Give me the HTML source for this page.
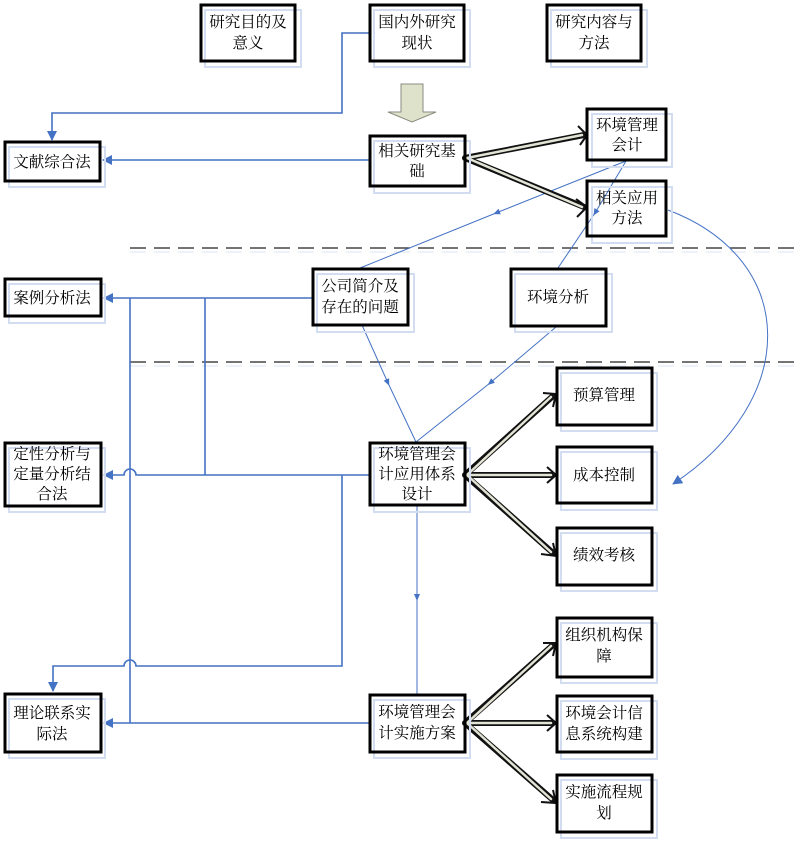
<!DOCTYPE html>
<html><head><meta charset="utf-8"><style>
html,body{margin:0;padding:0;background:#fff;}
svg{display:block;font-family:"Liberation Serif","Noto Serif CJK SC","Noto Sans CJK SC",serif;}
</style></head><body>
<svg width="807" height="842" viewBox="0 0 807 842" xmlns="http://www.w3.org/2000/svg">
<defs>
<marker id="a" markerWidth="10" markerHeight="10" refX="9" refY="5" orient="auto" markerUnits="userSpaceOnUse"><path d="M0,0 L10,5 L0,10 z" fill="#4472c4"/></marker>
<marker id="m" markerWidth="8" markerHeight="8" refX="4" refY="4" orient="auto" markerUnits="userSpaceOnUse"><path d="M0,1 L7,4 L0,7 z" fill="#4472c4"/></marker>
</defs>
<line x1="130" y1="248" x2="800" y2="248" stroke="#222" stroke-width="1.3" stroke-dasharray="16,8"/>
<line x1="130" y1="252" x2="800" y2="252" stroke="#dbe3f3" stroke-width="1" stroke-dasharray="16,8"/>
<line x1="130" y1="362" x2="800" y2="362" stroke="#222" stroke-width="1.3" stroke-dasharray="16,8"/>
<line x1="130" y1="366" x2="800" y2="366" stroke="#dbe3f3" stroke-width="1" stroke-dasharray="16,8"/>

<g fill="none" stroke="#4472c4" stroke-width="1.6">
<polyline points="369,33 342,33 342,113 52,113 52,140" marker-end="url(#a)"/>
<line x1="369" y1="160" x2="103" y2="160" marker-end="url(#a)"/>
<line x1="312" y1="298" x2="104" y2="298" marker-end="url(#a)"/>
<line x1="130" y1="298" x2="130" y2="723"/>
<line x1="205" y1="298" x2="205" y2="475"/>
<path d="M369,475 L136,475 A6,6 0 0 0 124,475 L104,475" marker-end="url(#a)"/>
<path d="M342,475 L342,666 L136,666 A6,6 0 0 0 124,666 L53,666 L53,691" marker-end="url(#a)"/>
<line x1="369" y1="723" x2="104" y2="723" marker-end="url(#a)"/>
</g>
<g fill="none" stroke="#4472c4" stroke-width="1">
<path d="M417,505 L417,598" marker-end="url(#m)"/><line x1="417" y1="598" x2="417" y2="694"/>
<path d="M626,161 L496,213" marker-end="url(#m)"/><line x1="496" y1="213" x2="360" y2="268"/>
<path d="M626,161 L595,213" marker-end="url(#m)"/><line x1="595" y1="213" x2="558" y2="268"/>
<path d="M362,325 L388,383" marker-end="url(#m)"/><line x1="388" y1="383" x2="416" y2="442"/>
<path d="M556,327 L490,383" marker-end="url(#m)"/><line x1="490" y1="383" x2="416" y2="442"/>
<path d="M668,210 C800,260 800,400 673,484" marker-end="url(#a)"/>
</g>

<g fill="none" stroke-linecap="round">
<g stroke="#111" stroke-width="6">
<path d="M465,158 L584,135 M465,158 L584,207 M465,475 L553,396 M465,475 L553,475 M465,475 L553,553 M465,723 L553,645 M465,723 L553,723 M465,723 L553,800"/>
</g>
<g stroke="#e4e4d6" stroke-width="2.5">
<path d="M467,158 L582,135 M467,158 L582,207 M467,475 L551,397 M467,475 L551,475 M467,475 L551,552 M467,723 L551,646 M467,723 L551,723 M467,723 L551,799"/>
</g>
</g>
<g fill="none" stroke="#111" stroke-width="2">
<path d="M578,126 L587,135 L580,145"/><path d="M576,199 L587,207 L577,217"/>
<path d="M543,393 L556,394 L553,407"/><path d="M547,467 L556,475 L547,483"/><path d="M541,554 L556,556 L553,543"/>
<path d="M543,643 L556,643 L553,656"/><path d="M547,715 L556,723 L547,731"/><path d="M541,802 L556,803 L553,790"/>
</g>

<path d="M401,84 L423,84 L423,112 L436,112 L412,122 L388,112 L401,112 z" fill="#dfe2cb" stroke="#8a8a80" stroke-width="1"/>

<g font-size="15.5" text-anchor="middle">
<rect x="205" y="10" width="96" height="57" fill="none" stroke="#d3ddf1" stroke-width="2"/><rect x="201" y="5" width="94" height="56" fill="none" stroke="#000" stroke-width="3"/>
<text x="248" y="27">研究目的及</text><text x="248" y="48">意义</text>
<rect x="374" y="10" width="96" height="57" fill="none" stroke="#d3ddf1" stroke-width="2"/><rect x="370" y="5" width="94" height="56" fill="none" stroke="#000" stroke-width="3"/>
<text x="417" y="27">国内外研究</text><text x="417" y="48">现状</text>
<rect x="551" y="10" width="96" height="57" fill="none" stroke="#d3ddf1" stroke-width="2"/><rect x="547" y="5" width="94" height="56" fill="none" stroke="#000" stroke-width="3"/>
<text x="594" y="27">研究内容与</text><text x="594" y="48">方法</text>

<rect x="9" y="147" width="96" height="40" fill="none" stroke="#d3ddf1" stroke-width="2"/><rect x="5" y="142" width="95" height="39" fill="none" stroke="#000" stroke-width="3"/>
<text x="52" y="167">文献综合法</text>
<rect x="374" y="141" width="96" height="52" fill="none" stroke="#d3ddf1" stroke-width="2"/><rect x="370" y="136" width="95" height="50" fill="none" stroke="#000" stroke-width="3"/>
<text x="417" y="156">相关研究基</text><text x="417" y="176">础</text>
<rect x="592" y="114" width="80" height="53" fill="none" stroke="#d3ddf1" stroke-width="2"/><rect x="587" y="109" width="79" height="51" fill="none" stroke="#000" stroke-width="3"/>
<text x="627" y="130">环境管理</text><text x="627" y="150">会计</text>
<rect x="592" y="187" width="80" height="56" fill="none" stroke="#d3ddf1" stroke-width="2"/><rect x="587" y="181" width="79" height="55" fill="none" stroke="#000" stroke-width="3"/>
<text x="627" y="203">相关应用</text><text x="627" y="223">方法</text>

<rect x="9" y="284" width="96" height="39" fill="none" stroke="#d3ddf1" stroke-width="2"/><rect x="5" y="279" width="96" height="37" fill="none" stroke="#000" stroke-width="3"/>
<text x="52" y="303">案例分析法</text>
<rect x="317" y="274" width="97" height="58" fill="none" stroke="#d3ddf1" stroke-width="2"/><rect x="313" y="269" width="95" height="56" fill="none" stroke="#000" stroke-width="3"/>
<text x="360" y="291">公司简介及</text><text x="360" y="312">存在的问题</text>
<rect x="515" y="274" width="97" height="58" fill="none" stroke="#d3ddf1" stroke-width="2"/><rect x="511" y="269" width="95" height="57" fill="none" stroke="#000" stroke-width="3"/>
<text x="558" y="302">环境分析</text>

<rect x="9" y="448" width="96" height="64" fill="none" stroke="#d3ddf1" stroke-width="2"/><rect x="5" y="443" width="96" height="63" fill="none" stroke="#000" stroke-width="3"/>
<text x="52" y="459">定性分析与</text><text x="52" y="479">定量分析结</text><text x="52" y="499">合法</text>
<rect x="374" y="448" width="96" height="64" fill="none" stroke="#d3ddf1" stroke-width="2"/><rect x="370" y="443" width="95" height="62" fill="none" stroke="#000" stroke-width="3"/>
<text x="417" y="459">环境管理会</text><text x="417" y="479">计应用体系</text><text x="417" y="499">设计</text>

<rect x="561" y="373" width="96" height="58" fill="none" stroke="#d3ddf1" stroke-width="2"/><rect x="557" y="368" width="95" height="57" fill="none" stroke="#000" stroke-width="3"/>
<text x="604" y="400">预算管理</text>
<rect x="561" y="452" width="96" height="58" fill="none" stroke="#d3ddf1" stroke-width="2"/><rect x="557" y="447" width="95" height="56" fill="none" stroke="#000" stroke-width="3"/>
<text x="604" y="480">成本控制</text>
<rect x="561" y="533" width="96" height="58" fill="none" stroke="#d3ddf1" stroke-width="2"/><rect x="557" y="528" width="95" height="57" fill="none" stroke="#000" stroke-width="3"/>
<text x="604" y="560">绩效考核</text>
<rect x="561" y="623" width="96" height="60" fill="none" stroke="#d3ddf1" stroke-width="2"/><rect x="557" y="618" width="95" height="59" fill="none" stroke="#000" stroke-width="3"/>
<text x="604" y="640">组织机构保</text><text x="604" y="661">障</text>
<rect x="561" y="701" width="96" height="58" fill="none" stroke="#d3ddf1" stroke-width="2"/><rect x="557" y="696" width="95" height="56" fill="none" stroke="#000" stroke-width="3"/>
<text x="604" y="718">环境会计信</text><text x="604" y="739">息系统构建</text>
<rect x="561" y="780" width="96" height="58" fill="none" stroke="#d3ddf1" stroke-width="2"/><rect x="557" y="775" width="95" height="57" fill="none" stroke="#000" stroke-width="3"/>
<text x="604" y="797">实施流程规</text><text x="604" y="818">划</text>

<rect x="9" y="699" width="96" height="59" fill="none" stroke="#d3ddf1" stroke-width="2"/><rect x="5" y="694" width="96" height="58" fill="none" stroke="#000" stroke-width="3"/>
<text x="52" y="718">理论联系实</text><text x="52" y="739">际法</text>
<rect x="374" y="700" width="96" height="58" fill="none" stroke="#d3ddf1" stroke-width="2"/><rect x="370" y="695" width="95" height="57" fill="none" stroke="#000" stroke-width="3"/>
<text x="417" y="717">环境管理会</text><text x="417" y="738">计实施方案</text>
</g>
</svg>
</body></html>
